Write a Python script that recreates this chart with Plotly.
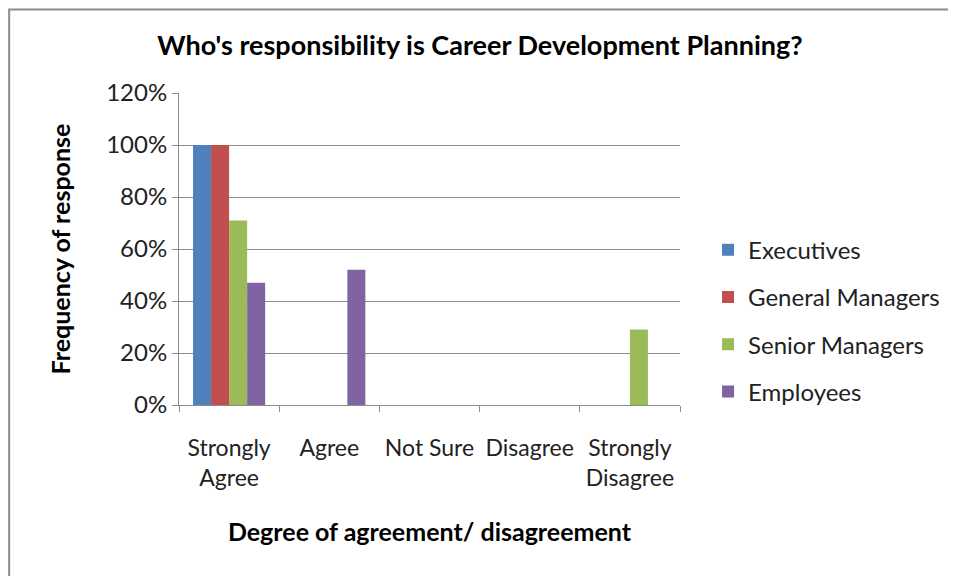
import plotly.graph_objects as go

categories = ["Strongly<br>Agree", "Agree", "Not Sure", "Disagree", "Strongly<br>Disagree"]
executives = [1.00, 0, 0, 0, 0]
general_managers = [1.00, 0, 0, 0, 0]
senior_managers = [0.71, 0, 0, 0, 0.29]
employees = [0.47, 0.52, 0, 0, 0]

series = [
    ("Executives", executives, "#4F81BD"),
    ("General Managers", general_managers, "#C0504D"),
    ("Senior Managers", senior_managers, "#9BBB59"),
    ("Employees", employees, "#8064A2"),
]

fig = go.Figure()
for i, (name, vals, col) in enumerate(series):
    fig.add_trace(go.Bar(x=categories, y=vals, name=name, marker_color=col,
                         marker_line_width=0, legendgroup=str(i)))

# page body has an 8px margin, so the margins are shifted by that amount
fig.update_layout(
    width=956, height=576,
    margin=dict(l=171, r=284, t=85, b=179),
    plot_bgcolor="white", paper_bgcolor="white",
    font=dict(family="Lato, Open Sans, sans-serif", size=24, color="#222"),
    title=dict(text="<b>Who's responsibility is Career Development Planning?</b>",
               x=472 / 956, xref="container", xanchor="center",
               y=1 - 38 / 576, yref="container", yanchor="middle",
               font=dict(size=27, color="#000")),
    barmode="group", bargap=0.28, bargroupgap=0,
    legend=dict(x=1.056, xanchor="left", y=0.27, yanchor="middle",
                traceorder="grouped", tracegroupgap=13,
                font=dict(size=24, color="#222")),
    showlegend=True,
)
fig.update_yaxes(range=[0, 1.2], dtick=0.2, tickformat=".0%",
                 showgrid=True, gridcolor="#8c8c8c", gridwidth=1,
                 showline=True, linecolor="#8c8c8c", ticks="outside",
                 tickcolor="#8c8c8c", ticklen=6,
                 tickfont=dict(size=24, color="#222"),
                 title=dict(text="<b>Frequency of response</b>", font=dict(size=25, color="#000"),
                            standoff=28))
fig.update_xaxes(showline=True, linecolor="#8c8c8c", ticks="outside",
                 tickson="boundaries", tickcolor="#8c8c8c", ticklen=6,
                 tickangle=0, tickfont=dict(size=23, color="#222"),
                 ticklabelstandoff=22,
                 title=dict(text="<b>Degree of agreement/ disagreement</b>",
                            font=dict(size=25, color="#000"), standoff=33))

# outer chart border (gray frame)
fig.add_shape(type="rect", xref="paper", yref="paper",
              x0=-0.339, x1=1.7, y0=-0.7, y1=1.268,
              line=dict(color="#8c8c8c", width=2), layer="below")

fig.write_html("out.html")
